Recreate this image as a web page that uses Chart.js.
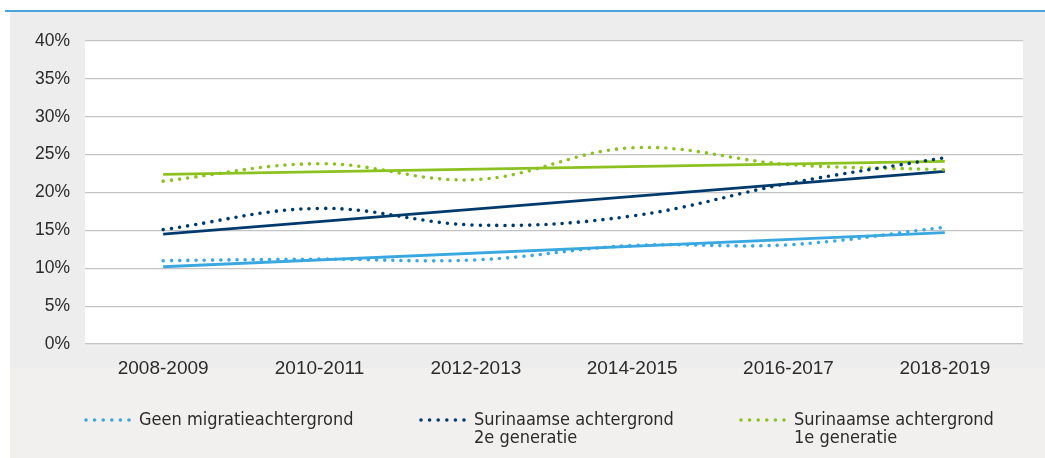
<!DOCTYPE html>
<html>
<head>
<meta charset="utf-8">
<script src="https://cdn.jsdelivr.net/npm/chart.js@4"></script>
<style>
  html, body { margin: 0; padding: 0; background: #fff; }
  #wrap { position: relative; width: 1045px; height: 458px; }
  canvas { display: block; }
</style>
</head>
<body>
<div id="wrap"><canvas id="chart" width="1045" height="458"></canvas></div>
<script>
const periods = ["2008-2009", "2010-2011", "2012-2013", "2014-2015", "2016-2017", "2018-2019"];
const geenMigratie = [11.0, 11.2, 11.1, 13.0, 13.1, 15.4];
const surinaams2e = [15.1, 17.9, 15.7, 16.9, 21.2, 24.6];
const surinaams1e = [21.5, 23.8, 21.7, 25.9, 23.7, 23.0];
// linear trend lines: only first and last period
const trendGeen = [10.2, null, null, null, null, 14.7];
const trend2e = [14.5, null, null, null, null, 22.8];
const trend1e = [22.4, null, null, null, null, 24.1];
const legendLabels = [
  ["Geen migratieachtergrond"],
  ["Surinaamse achtergrond", "2e generatie"],
  ["Surinaamse achtergrond", "1e generatie"]
];

const lightBlue = "#3aa8e0";
const darkBlue = "#003a6c";
const green = "#8cc21f";
const legendFont = "'Liberation Sans Narrow', 'DejaVu Sans Condensed', 'Liberation Sans', sans-serif";

function dotted(label, data, color) {
  return {
    label: label, data: data, borderColor: color, backgroundColor: color,
    borderWidth: 3.6, borderDash: [0, 8.2], borderCapStyle: "round",
    pointRadius: 0, tension: 0.38, fill: false
  };
}
function trend(data, color) {
  return {
    label: "trend", data: data, borderColor: color, borderWidth: 2.8,
    pointRadius: 0, tension: 0, spanGaps: true, fill: false
  };
}

const backgroundPlugin = {
  id: "background",
  beforeDraw(chart) {
    const ctx = chart.ctx;
    const a = chart.chartArea;
    ctx.save();
    ctx.fillStyle = "#ffffff";
    ctx.fillRect(0, 0, chart.width, chart.height);
    ctx.fillStyle = "#ededed";
    ctx.fillRect(10, 12, chart.width - 10, 356);
    ctx.fillStyle = "#f2f0ee";
    ctx.fillRect(10, 368, chart.width - 10, chart.height - 368);
    ctx.fillStyle = "#4aa3dc";
    ctx.fillRect(5, 10, chart.width - 5, 2);
    ctx.fillStyle = "#ffffff";
    ctx.fillRect(a.left, a.top, a.right - a.left, a.bottom - a.top);
    ctx.restore();
  }
};

const legendPlugin = {
  id: "bottomLegend",
  afterDraw(chart) {
    const ctx = chart.ctx;
    const starts = [86, 421, 741];
    const rowY = 420;
    ctx.save();
    for (let i = 0; i < 3; i++) {
      const ds = chart.data.datasets[i];
      ctx.strokeStyle = ds.borderColor;
      ctx.lineWidth = 3.6;
      ctx.lineCap = "round";
      ctx.setLineDash([0, 8.6]);
      ctx.beginPath();
      ctx.moveTo(starts[i], rowY);
      ctx.lineTo(starts[i] + 45, rowY);
      ctx.stroke();
      ctx.setLineDash([]);
      ctx.fillStyle = "#2b2b2b";
      ctx.font = "18px " + legendFont;
      ctx.textBaseline = "middle";
      legendLabels[i].forEach((line, j) => {
        ctx.fillText(line, starts[i] + 53, rowY + j * 18);
      });
    }
    ctx.restore();
  }
};

new Chart(document.getElementById("chart"), {
  type: "line",
  data: {
    labels: periods,
    datasets: [
      dotted("Geen migratieachtergrond", geenMigratie, lightBlue),
      dotted("Surinaamse achtergrond 2e generatie", surinaams2e, darkBlue),
      dotted("Surinaamse achtergrond 1e generatie", surinaams1e, green),
      trend(trendGeen, lightBlue),
      trend(trend2e, darkBlue),
      trend(trend1e, green)
    ]
  },
  options: {
    responsive: false,
    animation: false,
    layout: { padding: { left: 0, right: 22, top: 41, bottom: 0 } },
    plugins: { legend: { display: false }, tooltip: { enabled: false } },
    scales: {
      x: {
        offset: true,
        grid: { display: false },
        border: { display: false },
        ticks: { color: "#2b2b2b", padding: 5, maxRotation: 0, font: { family: "'Liberation Sans', Arial, sans-serif", size: 19 } },
        afterFit(scale) { scale.height = 114; }
      },
      y: {
        min: 0, max: 40,
        grid: { color: "#c4c4c4", lineWidth: 1.2, drawTicks: false },
        border: { display: false },
        ticks: {
          stepSize: 5, padding: 15, color: "#2b2b2b",
          font: { family: "'Liberation Sans', Arial, sans-serif", size: 17.5 },
          callback: v => v + "%"
        },
        afterFit(scale) { scale.width = 85; }
      }
    }
  },
  plugins: [backgroundPlugin, legendPlugin]
});
</script>
</body>
</html>
